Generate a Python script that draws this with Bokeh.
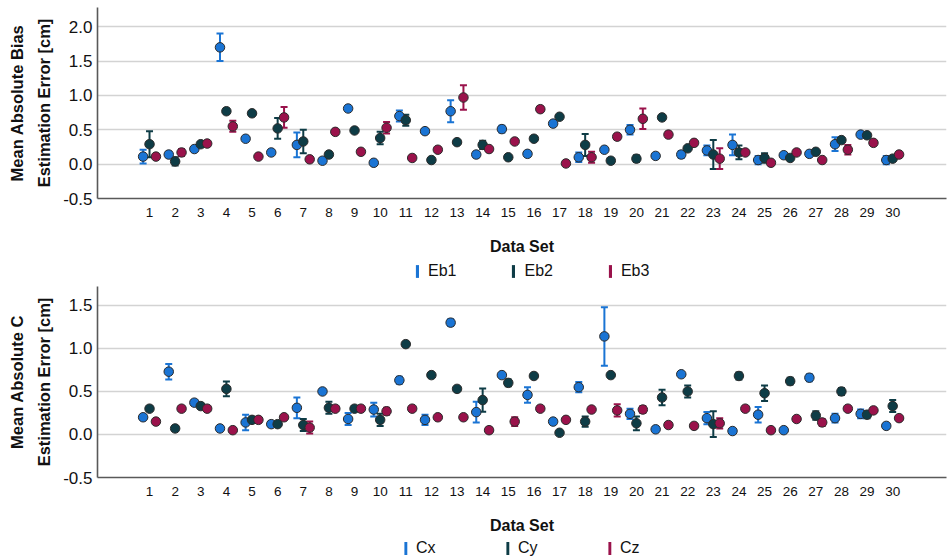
import numpy as np
from bokeh.plotting import figure
from bokeh.models import (ColumnDataSource, Whisker, TeeHead, Range1d, FixedTicker,
                          Legend, LegendItem, Title)
from bokeh.layouts import column
from bokeh.embed import file_html
from bokeh.resources import INLINE

# ---------------- data ----------------
data_sets = list(range(1, 31))

# top panel: mean absolute bias estimation error [cm]
eb1 = [0.11, 0.14, 0.22, 1.70, 0.37, 0.17, 0.28, 0.05, 0.81, 0.02,
       0.70, 0.48, 0.77, 0.14, 0.51, 0.15, 0.59, 0.10, 0.21, 0.50,
       0.12, 0.14, 0.20, 0.28, 0.06, 0.13, 0.15, 0.29, 0.43, 0.06]
eb1_err = [0.10, 0.04, 0.03, 0.20, 0.00, 0.00, 0.18, 0.00, 0.00, 0.00,
           0.08, 0.03, 0.16, 0.04, 0.05, 0.00, 0.00, 0.07, 0.00, 0.07,
           0.00, 0.05, 0.07, 0.15, 0.06, 0.00, 0.00, 0.10, 0.00, 0.06]
eb2 = [0.29, 0.04, 0.29, 0.77, 0.74, 0.52, 0.33, 0.14, 0.49, 0.38,
       0.64, 0.06, 0.32, 0.28, 0.10, 0.37, 0.69, 0.28, 0.05, 0.08,
       0.68, 0.23, 0.14, 0.17, 0.09, 0.09, 0.18, 0.35, 0.42, 0.08]
eb2_err = [0.19, 0.06, 0.00, 0.04, 0.03, 0.15, 0.17, 0.03, 0.00, 0.09,
           0.08, 0.00, 0.00, 0.06, 0.00, 0.00, 0.00, 0.16, 0.03, 0.05,
           0.00, 0.00, 0.21, 0.10, 0.07, 0.00, 0.00, 0.00, 0.00, 0.00]
eb3 = [0.11, 0.17, 0.30, 0.55, 0.11, 0.68, 0.07, 0.47, 0.18, 0.53,
       0.09, 0.21, 0.97, 0.22, 0.33, 0.80, 0.01, 0.10, 0.40, 0.66,
       0.43, 0.31, 0.08, 0.17, 0.02, 0.17, 0.06, 0.21, 0.31, 0.14]
eb3_err = [0.00, 0.05, 0.00, 0.08, 0.00, 0.15, 0.03, 0.00, 0.00, 0.085,
           0.00, 0.00, 0.18, 0.03, 0.00, 0.04, 0.00, 0.08, 0.04, 0.15,
           0.04, 0.00, 0.15, 0.00, 0.00, 0.00, 0.00, 0.07, 0.00, 0.00]

# bottom panel: mean absolute C estimation error [cm]
cx = [0.20, 0.73, 0.37, 0.07, 0.14, 0.12, 0.31, 0.50, 0.18, 0.29,
      0.63, 0.17, 1.30, 0.26, 0.69, 0.46, 0.15, 0.55, 1.14, 0.24,
      0.06, 0.70, 0.19, 0.04, 0.23, 0.05, 0.66, 0.19, 0.24, 0.10]
cx_err = [0.03, 0.09, 0.03, 0.03, 0.09, 0.03, 0.12, 0.03, 0.07, 0.08,
          0.04, 0.06, 0.04, 0.12, 0.00, 0.09, 0.00, 0.06, 0.34, 0.06,
          0.03, 0.00, 0.07, 0.00, 0.09, 0.00, 0.04, 0.05, 0.05, 0.00]
cy = [0.30, 0.07, 0.33, 0.53, 0.17, 0.12, 0.11, 0.31, 0.30, 0.17,
      1.05, 0.69, 0.53, 0.40, 0.60, 0.68, 0.02, 0.15, 0.69, 0.13,
      0.43, 0.50, 0.12, 0.68, 0.48, 0.62, 0.22, 0.50, 0.23, 0.33]
cy_err = [0.00, 0.03, 0.03, 0.085, 0.00, 0.00, 0.07, 0.07, 0.03, 0.07,
          0.00, 0.00, 0.00, 0.135, 0.04, 0.00, 0.00, 0.06, 0.00, 0.08,
          0.09, 0.07, 0.15, 0.04, 0.09, 0.04, 0.05, 0.04, 0.04, 0.07]
cz = [0.15, 0.30, 0.30, 0.05, 0.17, 0.20, 0.08, 0.30, 0.30, 0.27,
      0.30, 0.20, 0.20, 0.05, 0.15, 0.30, 0.17, 0.29, 0.28, 0.29,
      0.11, 0.10, 0.13, 0.30, 0.05, 0.18, 0.14, 0.30, 0.28, 0.19]
cz_err = [0.00, 0.00, 0.00, 0.00, 0.03, 0.00, 0.07, 0.00, 0.00, 0.04,
          0.00, 0.00, 0.00, 0.03, 0.05, 0.00, 0.00, 0.00, 0.07, 0.04,
          0.03, 0.00, 0.06, 0.00, 0.00, 0.00, 0.04, 0.00, 0.03, 0.00]

top_names = ["Eb1", "Eb2", "Eb3"]
bottom_names = ["Cx", "Cy", "Cz"]
top_ylabel = ["Mean Absolute Bias", "Estimation Error [cm]"]
bottom_ylabel = ["Mean Absolute C", "Estimation Error [cm]"]
x_label = "Data Set"

y_ticks_top = [-0.5, 0.0, 0.5, 1.0, 1.5, 2.0]
y_labels_top = ["-0.5", "0.0", "0.5", "1.0", "1.5", "2.0"]
y_ticks_bottom = [-0.5, 0.0, 0.5, 1.0, 1.5]
y_labels_bottom = ["-0.5", "0.0", "0.5", "1.0", "1.5"]

# ---------------- style ----------------
COLORS = ["#1a74d4", "#0e3c46", "#9a124b"]
OFFSETS = [-0.25, 0.0, 0.25]
FONT = "Liberation Sans"
TXT = "#111111"
X_START, X_END = -1.03, 32.1
LEFT = 97


def make_panel(series, ylabel_lines, y_end, y_ticks, y_labels, height, top_border):
    p = figure(width=948, height=height, output_backend="svg", toolbar_location=None,
               x_range=Range1d(X_START, X_END), y_range=Range1d(-0.5, y_end),
               min_border_left=LEFT, min_border_right=2,
               min_border_top=top_border, min_border_bottom=62)
    p.outline_line_color = None
    p.xgrid.visible = False
    p.ygrid.ticker = FixedTicker(ticks=y_ticks)
    p.ygrid.grid_line_color = "#d3d3d3"
    p.ygrid.grid_line_width = 1.6

    xa = p.xaxis[0]
    xa.ticker = FixedTicker(ticks=data_sets)
    xa.major_tick_in = 0
    xa.major_tick_out = 0
    xa.minor_tick_line_color = None
    xa.axis_line_color = "#595959"
    xa.axis_line_width = 1.6
    xa.major_label_text_font = FONT
    xa.major_label_text_font_size = "13.5px"
    xa.major_label_text_color = TXT
    xa.major_label_standoff = 9
    xa.axis_label = x_label
    xa.axis_label_text_font = FONT
    xa.axis_label_text_font_style = "bold"
    xa.axis_label_text_font_size = "16px"
    xa.axis_label_text_color = TXT
    xa.axis_label_standoff = 18

    ya = p.yaxis[0]
    ya.ticker = FixedTicker(ticks=y_ticks)
    ya.major_label_overrides = {t: l for t, l in zip(y_ticks, y_labels)}
    ya.major_tick_in = 0
    ya.major_tick_out = 0
    ya.minor_tick_line_color = None
    ya.axis_line_color = "#595959"
    ya.axis_line_width = 1.6
    ya.major_label_text_font = FONT
    ya.major_label_text_font_size = "17px"
    ya.major_label_text_color = TXT
    ya.major_label_standoff = 5

    # two-line y-axis title: inner line first (closest to the axis)
    inner = Title(text=ylabel_lines[1], align="center", text_font=FONT,
                  text_font_size="16.5px", text_font_style="bold",
                  text_color=TXT, standoff=15)
    outer = Title(text=ylabel_lines[0], align="center", text_font=FONT,
                  text_font_size="16.5px", text_font_style="bold",
                  text_color=TXT, standoff=0)
    p.add_layout(inner, "left")
    p.add_layout(outer, "left")

    for (vals, errs), color, off in zip(series, COLORS, OFFSETS):
        v = np.array(vals, dtype=float)
        e = np.array(errs, dtype=float)
        x = np.array(data_sets, dtype=float) + off
        src = ColumnDataSource(dict(x=x, y=v, lo=v - e, hi=v + e))
        w = Whisker(source=src, base="x", lower="lo", upper="hi", dimension="height",
                    line_color=color, line_width=2, level="underlay",
                    upper_head=TeeHead(size=7, line_color=color, line_width=2),
                    lower_head=TeeHead(size=7, line_color=color, line_width=2))
        p.add_layout(w)
        p.scatter("x", "y", source=src, size=9.5, fill_color=color,
                  line_color="#2b2b2b", line_width=1)
    return p


def make_legend(series, names, height, location, spacing):
    lg = figure(width=948, height=height, output_backend="svg", toolbar_location=None,
                x_range=Range1d(X_START, X_END), y_range=Range1d(0, 1),
                x_axis_location=None, y_axis_location=None,
                min_border_left=LEFT, min_border_right=2,
                min_border_top=0, min_border_bottom=0)
    lg.outline_line_color = None
    lg.grid.visible = False
    items = []
    for (vals, errs), name, color in zip(series, names, COLORS):
        v = np.array(vals, dtype=float)
        # zero-size bars: invisible, only used as the legend key (error-bar colour)
        src = ColumnDataSource(dict(x=np.array(data_sets, dtype=float), y=v))
        key = lg.vbar(x="x", top="y", bottom="y", width=0, source=src,
                      fill_color=color, line_color=None)
        items.append(LegendItem(label=name, renderers=[key]))
    legend = Legend(items=items, orientation="horizontal", location=location,
                    border_line_color=None, background_fill_alpha=0,
                    padding=0, margin=0, spacing=spacing,
                    label_standoff=9, glyph_width=4, glyph_height=16,
                    label_text_font=FONT, label_text_font_size="16px",
                    label_text_color=TXT)
    lg.add_layout(legend)
    return lg


top_series = [(eb1, eb1_err), (eb2, eb2_err), (eb3, eb3_err)]
bottom_series = [(cx, cx_err), (cy, cy_err), (cz, cz_err)]

p1 = make_panel(top_series, top_ylabel, 2.28, y_ticks_top, y_labels_top, 260, 7)
l1 = make_legend(top_series, top_names, 22, (318, 2), 55)
p2 = make_panel(bottom_series, bottom_ylabel, 1.72, y_ticks_bottom, y_labels_bottom, 257, 4)
l2 = make_legend(bottom_series, bottom_names, 18, "center", 69)

layout = column(p1, l1, p2, l2, spacing=0)
open("out.html", "w").write(file_html(layout, INLINE))
